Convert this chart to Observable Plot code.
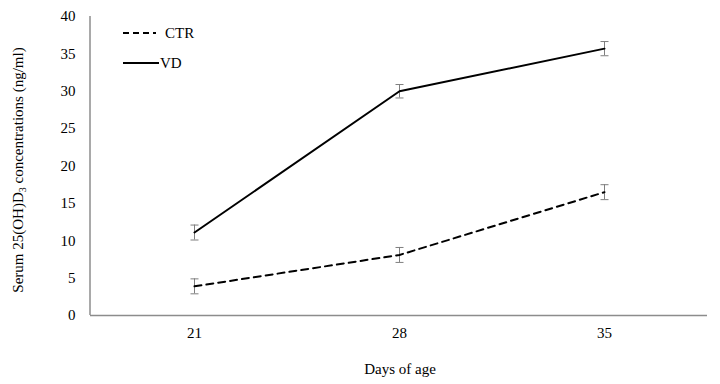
<!DOCTYPE html>
<html>
<head>
<meta charset="utf-8">
<script src="https://cdn.jsdelivr.net/npm/d3@7"></script>
<script src="https://cdn.jsdelivr.net/npm/@observablehq/plot@0.6"></script>
<style>
  html, body { margin: 0; padding: 0; background: #fff; }
  svg, svg text { font-family: "Liberation Serif", "Times New Roman", serif !important; }
</style>
</head>
<body>
<div id="chart"></div>
<script>
const days = ["21", "28", "35"];
const ctrMean = [3.9, 8.1, 16.5];
const ctrErr = [1.0, 1.0, 1.0];
const vdMean = [11.1, 30.0, 35.7];
const vdErr = [1.0, 0.9, 0.95];
const yTicks = [0, 5, 10, 15, 20, 25, 30, 35, 40];

const rows = [];
days.forEach((d, i) => {
  rows.push({day: d, group: "CTR", mean: ctrMean[i], err: ctrErr[i]});
  rows.push({day: d, group: "VD", mean: vdMean[i], err: vdErr[i]});
});
const ctr = rows.filter(r => r.group === "CTR");
const vd = rows.filter(r => r.group === "VD");

const capSymbol = {
  draw(ctx, size) {
    const r = Math.sqrt(size / Math.PI);
    ctx.moveTo(-r, 0);
    ctx.lineTo(r, 0);
  }
};

const FS = 15;
const chart = Plot.plot({
  width: 720,
  height: 384,
  marginLeft: 90,
  marginRight: 13,
  marginTop: 16,
  marginBottom: 69,
  style: {fontSize: FS + "px", color: "#000", background: "#fff"},
  x: {type: "point", domain: days, padding: 0.5, label: null},
  y: {domain: [0, 40], ticks: yTicks, label: null},
  marks: [
    Plot.axisY({ticks: yTicks, tickSize: 0, tickPadding: 15, fontSize: FS, label: null}),
    Plot.axisX({tickSize: 0, tickPadding: 12, fontSize: FS, label: null}),
    Plot.ruleY([0], {stroke: "#8c8c8c", strokeWidth: 1.5}),
    Plot.ruleX(rows, {x: "day", y1: r => r.mean - r.err, y2: r => r.mean + r.err, stroke: "#7f7f7f", strokeWidth: 1}),
    Plot.dot(rows, {x: "day", y: r => r.mean - r.err, symbol: capSymbol, r: 4, fill: "none", stroke: "#7f7f7f", strokeWidth: 1}),
    Plot.dot(rows, {x: "day", y: r => r.mean + r.err, symbol: capSymbol, r: 4, fill: "none", stroke: "#7f7f7f", strokeWidth: 1}),
    Plot.line(ctr, {x: "day", y: "mean", stroke: "#000", strokeWidth: 2, strokeDasharray: "7,5"}),
    Plot.line(vd, {x: "day", y: "mean", stroke: "#000", strokeWidth: 2})
  ]
});

const svg = d3.select(chart);
svg.attr("font-family", "'Liberation Serif', serif");
// Y axis line
svg.append("line").attr("x1", 90).attr("x2", 90).attr("y1", 16).attr("y2", 315)
  .attr("stroke", "#8c8c8c").attr("stroke-width", 1.5);
// Y axis label with subscript
const yl = svg.append("text")
  .attr("transform", "translate(23,170) rotate(-90)")
  .attr("text-anchor", "middle")
  .attr("font-size", FS)
  .attr("fill", "#000");
yl.append("tspan").text("Serum 25(OH)D");
yl.append("tspan").attr("font-size", 10).attr("dy", 3).text("3");
yl.append("tspan").attr("dy", -3).text(" concentrations (ng/ml)");
// X axis label
svg.append("text")
  .attr("x", 400).attr("y", 374)
  .attr("text-anchor", "middle")
  .attr("font-size", FS)
  .attr("fill", "#000")
  .text("Days of age");
// Legend
const lg = svg.append("g").attr("text-anchor", "start");
lg.append("line").attr("x1", 123).attr("x2", 156).attr("y1", 33).attr("y2", 33)
  .attr("stroke", "#000").attr("stroke-width", 2).attr("stroke-dasharray", "6,4");
lg.append("text").attr("x", 165).attr("y", 38).attr("font-size", FS).attr("fill", "#000").text("CTR");
lg.append("line").attr("x1", 123).attr("x2", 159).attr("y1", 63).attr("y2", 63)
  .attr("stroke", "#000").attr("stroke-width", 2);
lg.append("text").attr("x", 160).attr("y", 68).attr("font-size", FS).attr("fill", "#000").text("VD");

svg.selectAll("text").attr("font-family", "'Liberation Serif', serif");

document.getElementById("chart").appendChild(chart);
</script>
</body>
</html>
